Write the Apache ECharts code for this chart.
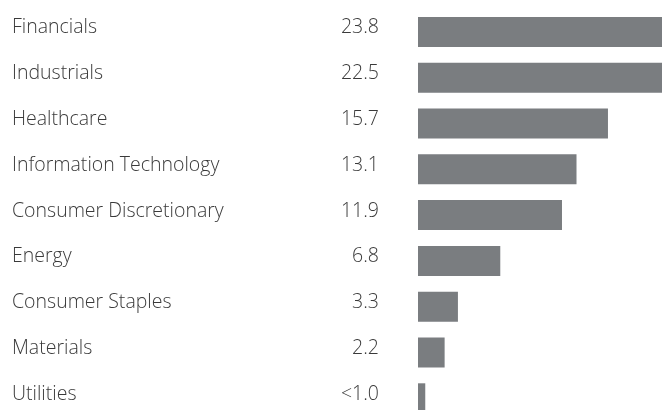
<!DOCTYPE html>
<html>
<head>
<meta charset="utf-8">
<script src="https://cdn.jsdelivr.net/npm/echarts@6/dist/echarts.min.js"></script>
<style>
html,body{margin:0;padding:0;background:#fff;}
#chart{width:662px;height:410px;}
</style>
</head>
<body>
<div id="chart"></div>
<script>
const categories = ["Financials","Industrials","Healthcare","Information Technology","Consumer Discretionary","Energy","Consumer Staples","Materials","Utilities"];
const values = [23.8, 22.5, 15.7, 13.1, 11.9, 6.8, 3.3, 2.2, 0.6];
const valueLabels = ["23.8","22.5","15.7","13.1","11.9","6.8","3.3","2.2","<1.0"];

const chart = echarts.init(document.getElementById('chart'), null, {renderer:'canvas'});
const textStyle = {fontFamily:'Open Sans', fontWeight:300, fontSize:19.5, color:'#3a3a3a', verticalAlign:'bottom', lineHeight:8};
chart.setOption({
  animation:false,
  grid:{left:418, top:9, width:302.5, height:412.2, containLabel:false, outerBoundsMode:'none'},
  xAxis:{type:'value', min:0, max:25, show:false},
  yAxis:[
    {type:'category', data:categories, inverse:true, position:'left',
     axisLine:{show:false}, axisTick:{show:false}, splitLine:{show:false},
     axisLabel:Object.assign({align:'left', margin:406}, textStyle)},
    {type:'category', data:valueLabels, inverse:true, position:'left', offset:0,
     axisLine:{show:false}, axisTick:{show:false}, splitLine:{show:false},
     axisLabel:Object.assign({align:'right', margin:39}, textStyle)}
  ],
  series:[{type:'bar', data:values, yAxisIndex:0, barWidth:30,
    itemStyle:{color:'#7a7d80'}}]
});
</script>
</body>
</html>
